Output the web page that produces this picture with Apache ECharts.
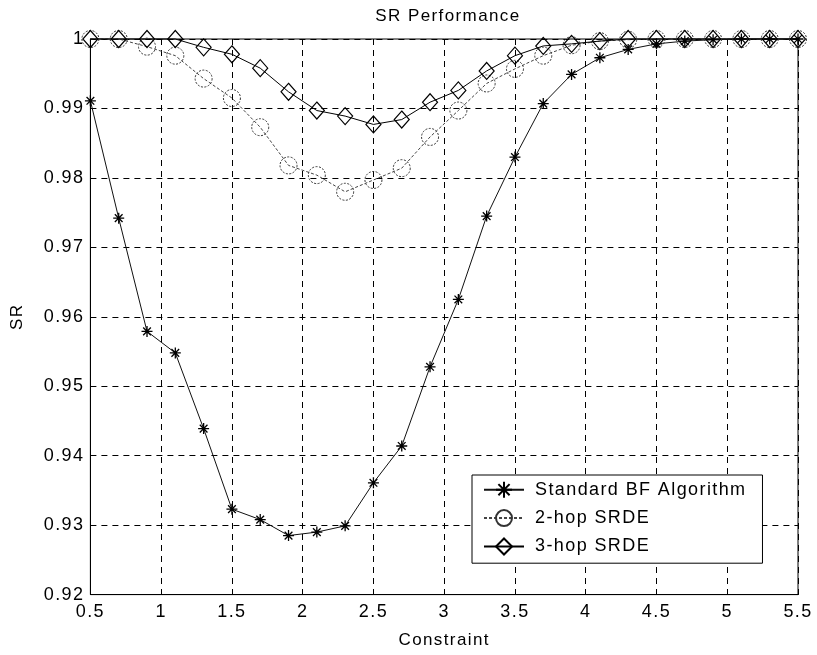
<!DOCTYPE html>
<html>
<head>
<meta charset="utf-8">
<script src="https://cdn.jsdelivr.net/npm/echarts@6/dist/echarts.min.js"></script>
<style>html,body{margin:0;padding:0;background:#fff}#c{width:817px;height:655px}</style>
</head>
<body>
<div id="c"></div>
<script>
const constraint = [0.5,0.7,0.9,1.1,1.3,1.5,1.7,1.9,2.1,2.3,2.5,2.7,2.9,3.1,3.3,3.5,3.7,3.9,4.1,4.3,4.5,4.7,4.9,5.1,5.3,5.5];
const standardBF = [0.9911,0.9742,0.9579,0.9548,0.9439,0.9323,0.9308,0.9285,0.9290,0.9299,0.9361,0.9414,0.9528,0.9625,0.9745,0.9830,0.9907,0.9949,0.9973,0.9985,0.9993,0.9997,0.9999,1.0,1.0,1.0];
const hop2 = [1.0,1.0,0.9989,0.9976,0.9943,0.9915,0.9873,0.9818,0.9804,0.9780,0.9797,0.9814,0.9859,0.9897,0.9936,0.9957,0.9976,0.9991,0.9997,0.9999,1.0,1.0,1.0,1.0,1.0,1.0];
const hop3 = [1.0,1.0,1.0,1.0,0.9988,0.9978,0.9958,0.9924,0.9897,0.9889,0.9877,0.9884,0.9909,0.9926,0.9954,0.9976,0.9990,0.9993,0.9997,1.0,1.0,1.0,1.0,1.0,1.0,1.0];
const seriesNames = ['Standard BF Algorithm','2-hop SRDE','3-hop SRDE'];

// wide letter spacing like the reference's text
(function(){
  const orig = HTMLCanvasElement.prototype.getContext;
  HTMLCanvasElement.prototype.getContext = function(type, opts){
    const ctx = orig.call(this, type, opts);
    if (ctx && type === '2d' && 'letterSpacing' in ctx && !ctx.__ls) { ctx.letterSpacing = '1.4px'; ctx.__ls = true; }
    return ctx;
  };
})();

const pairs = v => constraint.map((x,i)=>[x,v[i]]);
const star = 'path://M0,-10L0,10M-10,0L10,0M-7,-7L7,7M-7,7L7,-7';
const font = 'Arial, "Liberation Sans", Helvetica, sans-serif';

const chart = echarts.init(document.getElementById('c'), null, {renderer:'canvas'});
chart.setOption({
  animation:false,
  backgroundColor:'#fff',
  title:{text:'SR Performance', left:443, top:2, textAlign:'center',
    textStyle:{fontFamily:font, fontSize:17, fontWeight:'normal', color:'#000'}},
  grid:{left:90, right:19, top:39, bottom:59, show:true, borderColor:'#000', borderWidth:1, backgroundColor:'transparent'},
  xAxis:{type:'value', min:0.5, max:5.5, interval:0.5, name:'Constraint', nameLocation:'middle', nameGap:37,
    nameTextStyle:{fontFamily:font, fontSize:17, color:'#000'},
    axisLine:{show:true, lineStyle:{color:'#000'}},
    axisTick:{show:true, inside:true, length:5, lineStyle:{color:'#000'}},
    axisLabel:{fontFamily:font, fontSize:18, color:'#000', margin:8},
    splitLine:{show:true, lineStyle:{color:'#000', type:[6,5], width:1}}},
  yAxis:{type:'value', min:0.92, max:1, interval:0.01, name:'SR', nameLocation:'middle', nameGap:64,
    nameTextStyle:{fontFamily:font, fontSize:17, color:'#000'},
    axisLine:{show:true, lineStyle:{color:'#000'}},
    axisTick:{show:true, inside:true, length:5, lineStyle:{color:'#000'}},
    axisLabel:{fontFamily:font, fontSize:18, color:'#000', margin:6,
      formatter:v=>String(Math.round(v*100)/100)},
    splitLine:{show:true, lineStyle:{color:'#000', type:[6,5], width:1}}},
  legend:{orient:'vertical', left:472, top:475,
    backgroundColor:'#fff', borderColor:'#000', borderWidth:1, padding:[5,16,7,11],
    itemWidth:40, itemHeight:20, itemGap:9,
    textStyle:{fontFamily:font, fontSize:18, color:'#000', padding:[0,0,0,6]},
    data:seriesNames},
  series:[
    {name:seriesNames[0], type:'line', data:pairs(standardBF), clip:false,
      symbol:star, symbolSize:11, showAllSymbol:true,
      lineStyle:{color:'#111', width:1},
      itemStyle:{color:'#000', borderColor:'#000', borderWidth:1.3}},
    {name:seriesNames[1], type:'line', data:pairs(hop2), clip:false,
      symbol:'circle', symbolSize:17, showAllSymbol:true,
      lineStyle:{color:'#444', width:1, type:[3,2]},
      itemStyle:{color:'rgba(255,255,255,0)', borderColor:'#333', borderWidth:1, borderType:[2,1.5]}},
    {name:seriesNames[2], type:'line', data:pairs(hop3), clip:false,
      symbol:'diamond', symbolSize:[15,17], showAllSymbol:true,
      lineStyle:{color:'#000', width:1},
      itemStyle:{color:'rgba(255,255,255,0)', borderColor:'#000', borderWidth:1.2}}
  ]
});
</script>
</body>
</html>
